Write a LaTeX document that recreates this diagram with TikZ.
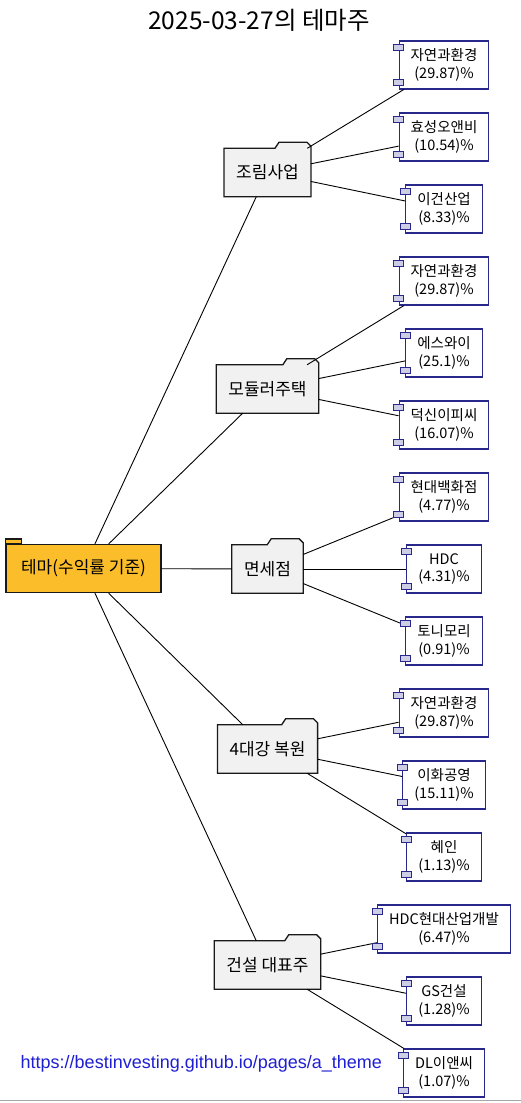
\documentclass[tikz,border=0pt]{standalone}
\usepackage{fontspec}
\setmainfont{Noto Sans CJK KR}
\newfontfamily\urlfont{Liberation Sans}
\usetikzlibrary{backgrounds}
\definecolor{themefill}{HTML}{F1F1F1}
\definecolor{rootfill}{RGB}{251,189,42}
\definecolor{navy}{RGB}{40,40,140}
\definecolor{portfill}{RGB}{205,205,230}
\definecolor{urlblue}{RGB}{30,30,210}
\begin{document}
\begin{tikzpicture}[x=1pt,y=-1pt,
 theme/.style={minimum height=48pt,inner xsep=12pt,font=\fontsize{17}{20}\selectfont},
 rootbox/.style={draw=black!90,line width=1.3pt,fill=rootfill,minimum height=48pt,inner xsep=15pt,font=\fontsize{17}{20}\selectfont},
 tabbox/.style={draw=black!90,line width=1.3pt,fill=rootfill},
 stock/.style={draw=navy,line width=1.1pt,fill=white,minimum height=48pt,inner xsep=11.5pt,align=center,font=\fontsize{14.5}{17.7}\selectfont},
 port/.style={draw=navy,line width=1pt,fill=portfill},
 folder/.style={draw=black!90,line width=1.3pt,fill=themefill},
 link/.style={black,line width=.9pt}]
 \useasboundingbox (0,0) rectangle (521,1103);
 \node[anchor=base,font=\fontsize{24.5}{28}\selectfont] (title) at (259,29) {2025-03-27의 테마주};
 \node[rootbox] (root) at (83.5,568.5) {테마(수익률 기준)};
 \draw[tabbox] (root.north west) rectangle ([xshift=16pt,yshift=5pt]root.north west);
 \foreach \n/\y/\t in {jorim/172.5/조림사업,modular/389/모듈러주택,dutyfree/569/면세점,river/749/4대강 복원,constr/965/건설 대표주}
  \node[theme] (\n) at (267.5,\y) {\t};
 \begin{pgfonlayer}{background}
 \foreach \n in {jorim,modular,dutyfree,river,constr}
  \draw[folder] (\n.north west) -- ([xshift=-36pt]\n.north east) -- ([xshift=-32pt,yshift=6pt]\n.north east) -- ([xshift=-4pt,yshift=6pt]\n.north east) -- ([yshift=2pt]\n.north east) -- (\n.south east) -- (\n.south west) -- cycle;
 \end{pgfonlayer}
 % stocks
 \foreach \n/\y/\t/\p in {s1/65/자연과환경/29.87,s2/137/효성오앤비/10.54,s3/209/이건산업/8.33,
   s4/281/자연과환경/29.87,s5/353/에스와이/25.1,s6/425/덕신이피씨/16.07,
   s7/497/현대백화점/4.77,s8/569/HDC/4.31,s9/641/토니모리/0.91,
   s10/713/자연과환경/29.87,s11/785/이화공영/15.11,s12/857/혜인/1.13,
   s13/929/HDC현대산업개발/6.47,s14/1001/GS건설/1.28,s15/1073/DL이앤씨/1.07}
  \node[stock] (\n) at (444,\y) {\t\\(\p)\%};
 \foreach \n in {jorim,modular,dutyfree,river,constr} \draw[link] (root) -- (\n);
 \foreach \a/\b in {jorim/s1,jorim/s2,jorim/s3,modular/s4,modular/s5,modular/s6,dutyfree/s7,dutyfree/s8,dutyfree/s9,
   river/s10,river/s11,river/s12,constr/s13,constr/s14,constr/s15}
  \draw[link] (\a) -- (\b);
 \foreach \i in {1,...,15} {
  \draw[port] ([xshift=-5pt,yshift=-4pt]s\i.north west) rectangle ([xshift=5pt,yshift=-10pt]s\i.north west);
  \draw[port] ([xshift=-5pt,yshift=4pt]s\i.south west) rectangle ([xshift=5pt,yshift=10pt]s\i.south west);
 }
 \node[anchor=west,inner sep=0pt,text=urlblue,font=\urlfont\fontsize{18}{21}\selectfont] (url) at (20.5,1064) {https://bestinvesting.github.io/pages/a\_theme};
 \draw[gray!70,line width=1pt] (0,1100) -- (521,1100);
\end{tikzpicture}
\end{document}
